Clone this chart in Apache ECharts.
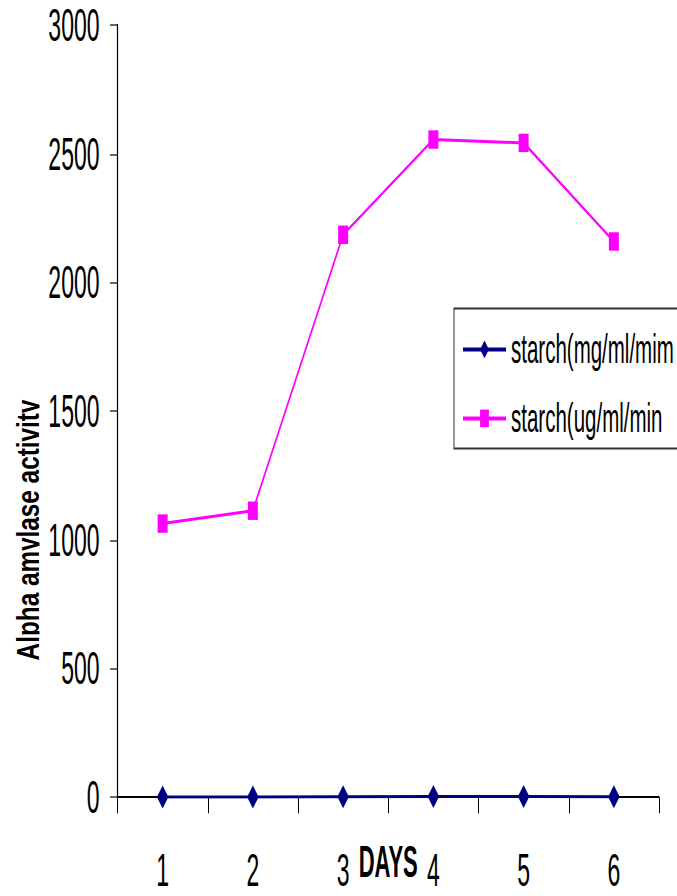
<!DOCTYPE html>
<html>
<head>
<meta charset="utf-8">
<script src="https://cdn.jsdelivr.net/npm/echarts@6/dist/echarts.min.js"></script>
<style>
html,body{margin:0;padding:0;background:#fff;}
#wrap{width:677px;height:896px;overflow:hidden;position:relative;background:#fff;}
#c{width:677px;height:448px;transform:scaleY(2);transform-origin:0 0;}
</style>
</head>
<body>
<div id="wrap"><div id="c"></div></div>
<script>
// ---- data ----
const days = ['1', '2', '3', '4', '5', '6'];
const seriesNames = ['starch(mg/ml/mim', 'starch(ug/ml/min'];
const starchMg = [1.06, 1.11, 2.19, 2.56, 2.54, 2.16];
const starchUg = [1063, 1113, 2185, 2555, 2542, 2159];
const yMin = 0, yMax = 3000, yStep = 500;
const xTitle = 'DAYS';
const yTitle = 'Alpha amylase activity';

const FONT = '"Liberation Sans", Arial, sans-serif';
const chart = echarts.init(document.getElementById('c'), null, {renderer: 'svg'});
chart.setOption({
  animation: false,
  backgroundColor: '#fff',
  grid: {left: 117.5, right: 18, top: 12.5, bottom: 49.4, containLabel: false, outerBoundsMode: 'none'},
  legend: {
    left: 454, top: 154.2, orient: 'vertical',
    data: seriesNames,
    itemWidth: 43, itemHeight: 11, itemGap: 13.5,
    padding: [10, 30, 4.5, 8],
    borderColor: '#333', borderWidth: 1, backgroundColor: '#fff',
    textStyle: {fontFamily: FONT, fontSize: 20.5, lineHeight: 20.5, color: '#000'}
  },
  xAxis: {
    type: 'category', data: days, boundaryGap: true,
    name: xTitle, nameLocation: 'middle', nameGap: 21.5, nameMoveOverlap: false,
    nameTextStyle: {fontFamily: FONT, fontSize: 22, fontWeight: 'bold', color: '#000',
                    verticalAlign: 'top', lineHeight: 22},
    axisLine: {show: true, lineStyle: {color: '#000', width: 1}},
    axisTick: {show: true, alignWithLabel: false, length: 8, lineStyle: {color: '#000', width: 1}},
    axisLabel: {margin: 25, fontFamily: FONT, fontSize: 23, color: '#000'},
    splitLine: {show: false}
  },
  yAxis: {
    type: 'value', min: yMin, max: yMax, interval: yStep,
    axisLine: {show: true, lineStyle: {color: '#000', width: 1.2}},
    axisTick: {show: true, length: 7.5, lineStyle: {color: '#000', width: 0.6}},
    axisLabel: {margin: 18, fontFamily: FONT, fontSize: 23, color: '#000',
                formatter: function (v) { return String(v); }},
    splitLine: {show: false}
  },
  graphic: [
    {type: 'text', x: 27.5, y: 265, rotation: Math.PI / 2, scaleX: 0.38, scaleY: 1,
     style: {text: yTitle, font: 'bold 32px ' + FONT, fill: '#000', align: 'center', verticalAlign: 'middle'}},
    {type: 'rect', shape: {x: 39.5, y: 185, width: 8, height: 160}, style: {fill: '#fff'}}
  ],
  series: [
    {name: seriesNames[0], type: 'line', data: starchMg,
     symbol: 'diamond', symbolSize: [11.5, 11.5],
     lineStyle: {color: '#000080', width: 1.5},
     itemStyle: {color: '#000080'}, z: 3},
    {name: seriesNames[1], type: 'line', data: starchUg,
     symbol: 'rect', symbolSize: [10, 9.2],
     lineStyle: {color: '#FF00FF', width: 1.5},
     itemStyle: {color: '#FF00FF'}, z: 2}
  ]
});
</script>
</body>
</html>
